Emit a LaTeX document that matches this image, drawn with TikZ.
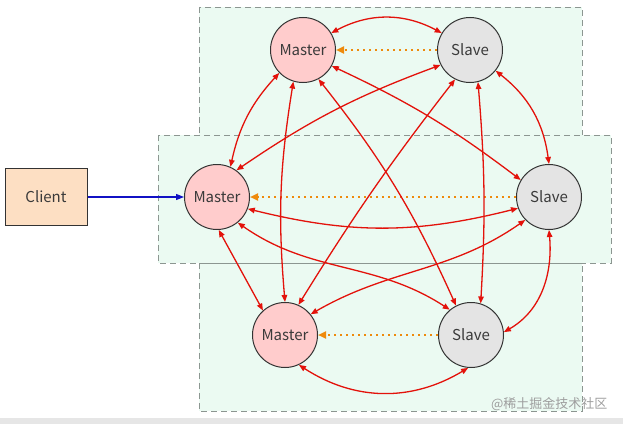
\documentclass[tikz,border=0pt]{standalone}
\usepackage{fontspec}
\setmainfont{Noto Sans CJK SC}
\usepackage{xcolor}
\definecolor{msink}{HTML}{3A3A3A}
\definecolor{msline}{HTML}{333333}
\definecolor{msred}{HTML}{E3120B}
\definecolor{msorange}{HTML}{EE8A0C}
\definecolor{msblue}{HTML}{1111C4}
\definecolor{msgreen}{HTML}{EBFAF2}
\definecolor{msrule}{HTML}{8C9691}
\definecolor{mspink}{HTML}{FFCCCC}
\definecolor{msgrey}{HTML}{E4E4E4}
\definecolor{mspeach}{HTML}{FDDFC3}
\definecolor{msband}{HTML}{E6E6E6}
\usepackage{tikz}
\usetikzlibrary{arrows.meta}
\tikzset{
  msmaster/.style={circle, draw=msline, fill=mspink, line width=1pt,
                   minimum size=65pt, inner sep=0pt,
                   font=\fontsize{15pt}{17pt}\selectfont, text=msink},
  msslave/.style ={msmaster, fill=msgrey},
  msclient/.style={rectangle, draw=msline, fill=mspeach, line width=1pt,
                   minimum width=82pt, minimum height=57pt,
                   font=\fontsize{15pt}{17pt}\selectfont, text=msink},
  msgroup/.style ={draw=msrule, fill=msgreen, line width=0.9pt,
                   dash pattern=on 6pt off 4pt},
  mslink/.style  ={{Triangle[length=7pt,width=5.5pt]}-{Triangle[length=7pt,width=5.5pt]},
                   line width=1.3pt, draw=msred},
  mssync/.style  ={-{Triangle[length=8pt,width=7pt]}, line width=2pt, draw=msorange,
                   dash pattern=on 2pt off 4pt},
  msreq/.style   ={-{Triangle[length=8pt,width=6pt]}, line width=1.2pt, draw=msblue},
  mswater/.style ={font=\fontsize{13pt}{15pt}\selectfont, text=black!38},
}
\begin{document}
\begin{tikzpicture}[x=1pt, y=1pt]
  \useasboundingbox (0,0) rectangle (623,424);
  \fill[msband] (0,0) rectangle (623,6);
  % the three groups
  \draw[msgroup] (199,417) rectangle (582,289);
  \draw[msgroup] (199,161) rectangle (582,13);
  \draw[msgroup] (158,289) rectangle (611,161);
  \node[mswater, anchor=east] (wm) at (611,20) {@稀土掘金技术社区};
  % nodes
  \node[msclient] (c)  at (46,227)  {Client};
  \node[msmaster] (m1) at (303,374) {Master};
  \node[msslave]  (s1) at (470,374) {Slave};
  \node[msmaster] (m2) at (217,227) {Master};
  \node[msslave]  (s2) at (549,227) {Slave};
  \node[msmaster] (m3) at (285,89)  {Master};
  \node[msslave]  (s3) at (471,89)  {Slave};
  \draw[msreq] (c) -- (m2);
  \foreach \a/\b in {s1/m1, s2/m2, s3/m3}{\draw[mssync] (\a) -- (\b);}
  % links inside a group
  \draw[mslink] (m1.31) to[bend left=28] (s1.149);
  \draw[mslink] (m2.-21) to[bend right=14] (s2.-160);
  \draw[mslink] (m3.-65) to[bend right=32] (s3.-95);
  % links between groups
  \draw[mslink] (m1.-136) to[bend right=15] (m2.66);
  \draw[mslink] (m1.-107) to[bend right=7] (m3.90);
  \draw[mslink] (m1.-62) to[bend left=7] (s3.117);
  \draw[mslink] (m1.-29) to[bend left=6] (s2.149);
  \draw[mslink] (s1.-153) to[bend right=7] (m2.54);
  \draw[mslink] (s1.-117) to[bend right=3] (m3.66);
  \draw[mslink] (s1.-76) to[bend left=4] (s3.73);
  \draw[mslink] (s1.-39) to[bend left=22] (s2.90);
  \draw[mslink] (m2.-87) -- (m3.132);
  \draw[mslink] (m2.-51) to[out=-35, in=147] (s3.130);
  \draw[mslink] (s2.-136) to[out=-145, in=30] (m3.39);
  \draw[mslink] (s2.-90) to[out=-85, in=30] (s3.5);
\end{tikzpicture}
\end{document}
